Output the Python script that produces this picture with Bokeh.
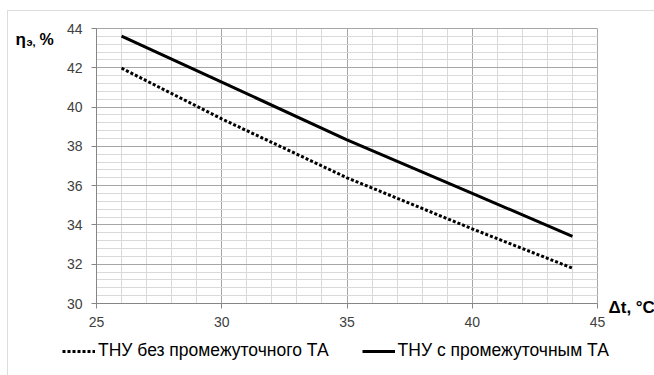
import numpy as np
from bokeh.plotting import figure
from bokeh.models import (Label, Legend, LegendItem, SingleIntervalTicker, Range1d,
                          BoxAnnotation, Grid)
from bokeh.embed import file_html
from bokeh.resources import INLINE

# Temperature difference, °C
dt = [26, 30, 35, 40, 44]
# Efficiency, % — heat pump without intermediate heat exchanger
eta_without = [41.98, 39.40, 36.40, 33.80, 31.80]
# Efficiency, % — heat pump with intermediate heat exchanger
eta_with = [43.61, 41.27, 38.33, 35.61, 33.42]

series_names = ["ТНУ без промежуточного ТА", "ТНУ с промежуточным ТА"]

X_LIM = (25, 45)
Y_LIM = (30, 44)

W, H = 654, 375
FONT = "Liberation Sans"
AXIS_GRAY = "#868686"

# Plot area in page pixels; the frame spans the whole canvas so that
# titles, legend and border can be drawn around the plot area.
PA_LEFT, PA_RIGHT, PA_TOP, PA_BOTTOM = 96, 597, 28, 303
sx = (PA_RIGHT - PA_LEFT) / (X_LIM[1] - X_LIM[0])
sy = (PA_BOTTOM - PA_TOP) / (Y_LIM[1] - Y_LIM[0])
x_start = X_LIM[0] - PA_LEFT / sx
x_end = X_LIM[1] + (W - PA_RIGHT) / sx
y_end = Y_LIM[1] + PA_TOP / sy
y_start = Y_LIM[0] - (H - PA_BOTTOM) / sy


def px_x(px):
    return x_start + px / sx


def px_y(py):
    return y_end - py / sy


p = figure(
    width=W, height=H, min_border=0,
    x_range=Range1d(x_start, x_end), y_range=Range1d(y_start, y_end),
    output_backend="svg", toolbar_location=None,
    background_fill_color="white", border_fill_color="white",
)
p.outline_line_color = None

x_ticker = SingleIntervalTicker(interval=5, num_minor_ticks=5)
y_ticker = SingleIntervalTicker(interval=2, num_minor_ticks=5)

p.xaxis.ticker = x_ticker
p.yaxis.ticker = y_ticker
p.xaxis.fixed_location = Y_LIM[0]
p.yaxis.fixed_location = X_LIM[0]
p.xaxis.bounds = X_LIM
p.yaxis.bounds = Y_LIM

for ax in (p.xaxis, p.yaxis):
    ax.axis_line_color = AXIS_GRAY
    ax.major_tick_line_color = AXIS_GRAY
    ax.major_tick_out = 5
    ax.major_tick_in = 0
    ax.minor_tick_line_color = None
    ax.major_label_text_font = FONT
    ax.major_label_text_font_size = "14px"
    ax.major_label_text_color = "#404040"
p.yaxis.major_label_standoff = 9
p.xaxis.major_label_standoff = 8

MAJOR_GRID = "#a6a6a6"
MINOR_GRID = "#d9d9d9"
if "cross_bounds" in Grid.properties():
    p.xgrid.bounds = X_LIM
    p.ygrid.bounds = Y_LIM
    p.xgrid.cross_bounds = Y_LIM
    p.ygrid.cross_bounds = X_LIM
    for g in (p.xgrid, p.ygrid):
        g.grid_line_color = MAJOR_GRID
        g.minor_grid_line_color = MINOR_GRID
    p.xgrid.level = "underlay"
    p.ygrid.level = "underlay"
else:
    p.xgrid.visible = False
    p.ygrid.visible = False
    xs_minor = np.arange(X_LIM[0], X_LIM[1] + 0.5, 1.0)
    ys_minor = np.arange(Y_LIM[0], Y_LIM[1] + 0.2, 0.4)
    p.segment(xs_minor, Y_LIM[0], xs_minor, Y_LIM[1], line_color=MINOR_GRID, line_width=1)
    p.segment(X_LIM[0], ys_minor, X_LIM[1], ys_minor, line_color=MINOR_GRID, line_width=1)
    xs_major = np.arange(X_LIM[0], X_LIM[1] + 0.5, 5.0)
    ys_major = np.arange(Y_LIM[0], Y_LIM[1] + 0.5, 2.0)
    p.segment(xs_major, Y_LIM[0], xs_major, Y_LIM[1], line_color=MAJOR_GRID, line_width=1)
    p.segment(X_LIM[0], ys_major, X_LIM[1], ys_major, line_color=MAJOR_GRID, line_width=1)

r_without = p.line(dt, eta_without, line_color="black", line_width=3,
                   line_dash="3 2", line_cap="butt")
r_with = p.line(dt, eta_with, line_color="black", line_width=3)

# Chart area border (left and top edges visible)
p.add_layout(BoxAnnotation(left=px_x(7), right=px_x(W + 20), top=px_y(10), bottom=px_y(H + 20),
                           fill_alpha=0, line_color="#8a8a8a", line_width=1))

legend = Legend(
    items=[LegendItem(label=series_names[0], renderers=[r_without]),
           LegendItem(label=series_names[1], renderers=[r_with])],
    orientation="horizontal", location=(62, 14),
    label_text_font=FONT, label_text_font_size="17.5px", label_text_color="black",
    glyph_width=33, glyph_height=20, label_standoff=3, spacing=33,
    border_line_color=None, background_fill_alpha=0,
    padding=0, margin=0,
)
p.add_layout(legend)

# Axis titles
title_kw = dict(text_font=FONT, text_font_style="bold", text_color="black")
p.add_layout(Label(x=px_x(15), y=px_y(39), text="η", text_font_size="17px",
                   text_baseline="alphabetic", **title_kw))
p.add_layout(Label(x=px_x(26), y=px_y(41), text="э,", text_font_size="11px",
                   text_baseline="alphabetic", **title_kw))
p.add_layout(Label(x=px_x(39), y=px_y(39), text="%", text_font_size="16px",
                   text_baseline="alphabetic", **title_kw))
p.add_layout(Label(x=px_x(608), y=px_y(307), text="Δt, °C", text_font_size="17px",
                   text_baseline="middle", **title_kw))

open("out.html", "w").write(file_html(p, INLINE))
